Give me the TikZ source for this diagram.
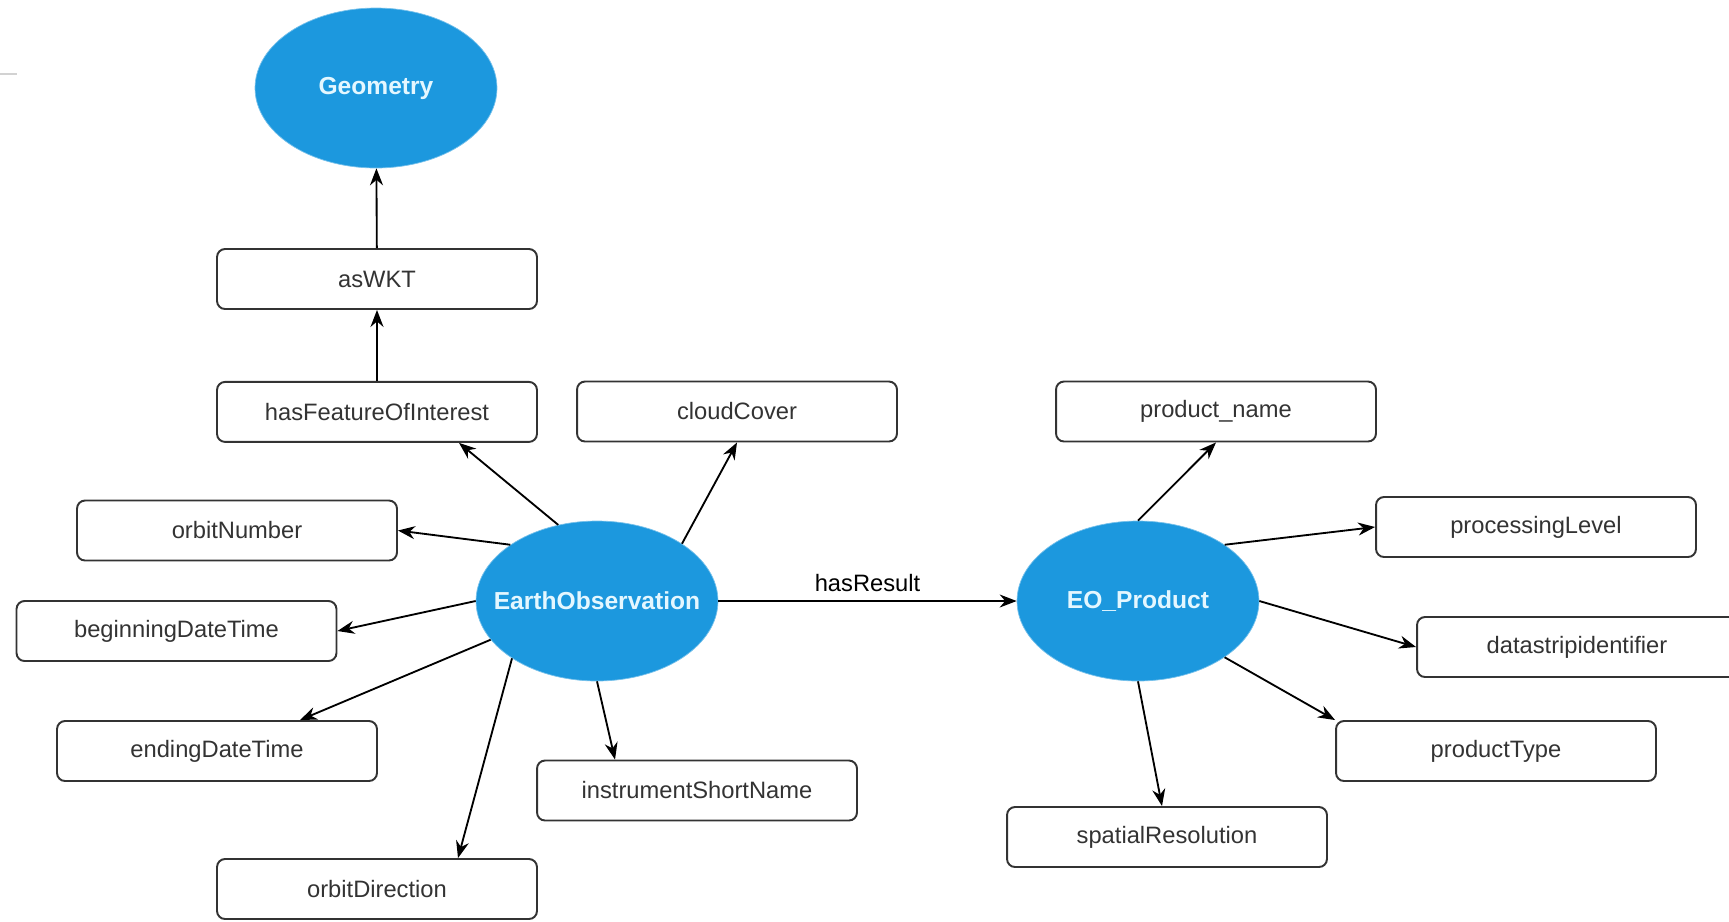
\documentclass[tikz,border=0pt]{standalone}
\usepackage{fontspec}
\setmainfont{Liberation Sans}
\usetikzlibrary{positioning, arrows.meta, calc, shapes.geometric}
\definecolor{eoblue}{RGB}{28, 152, 222}
\definecolor{eotext}{RGB}{228, 247, 255}
\definecolor{boxline}{RGB}{51, 51, 51}
\newcommand{\clsname}[1]{\makebox[0pt]{#1}}

\begin{document}
\begin{tikzpicture}[x=0.02cm, y=-0.02cm, node distance=1.42cm,
    every node/.style={align=center, font=\fontsize{13.5}{16}\selectfont},
    prop/.style={draw=boxline, line width=1.1pt, rounded corners=0.16cm, minimum width=6.4cm, minimum height=1.2cm, text=boxline, inner sep=0pt},
    cls/.style={ellipse, fill=eoblue, draw=eoblue!60!white, minimum width=4.84cm, minimum height=3.2cm, inner sep=0pt, text=eotext, font=\fontsize{14}{16}\selectfont\bfseries},
    link/.style={-{Stealth[length=0.34cm, width=0.26cm]}, line width=1.05pt}]
    \useasboundingbox (0,0) rectangle (1729,921);
    \draw[gray!35, line width=0.8pt] (0,74) -- (17,74);

    % classes
    \node[cls] (geometry) at (376,88) {\clsname{Geometry}};
    \node[cls] (eo) at (597,601) {\clsname{EarthObservation}};
    \node[cls] (eop) at (1138,601) {\clsname{EO\_Product}};

    % properties of EarthObservation
    \node[prop] (aswkt) at (377,279) {asWKT};
    \node[prop, below=of aswkt] (hfoi) {hasFeatureOfInterest};
    \node[prop] (cloud) at (737,411.5) {cloudCover};
    \node[prop] (orbitnum) at (237,530.5) {orbitNumber};
    \node[prop] (begintime) at (176.5,631) {beginningDateTime};
    \node[prop] (endtime) at (217,751) {endingDateTime};
    \node[prop] (orbitdir) at (377,889) {orbitDirection};
    \node[prop] (instr) at (697,790.5) {instrumentShortName};

    % properties of EO_Product
    \node[prop] (pname) at (1216,411.5) {product\_name};
    \node[prop] (plevel) at (1536,527) {processingLevel};
    \node[prop] (dsid) at (1577,647) {datastripidentifier};
    \node[prop] (ptype) at (1496,751) {productType};
    \node[prop] (spres) at (1167,837) {spatialResolution};

    \draw[link] (aswkt) -- (geometry);
    \draw[link] (hfoi) -- (aswkt);
    \draw[link] (eo.117.5) -- ($(hfoi.south)+(82,0)$);
    \draw[link] (eo.34) -- (cloud.south);
    \draw[link] (eo.147.5) -- (orbitnum.east);
    \draw[link] (eo.west) -- (begintime.east);
    \draw[link] (eo.200) -- ($(endtime.north)+(83,0)$);
    \draw[link] (eo.214) -- ($(orbitdir.north)+(81,0)$);
    \draw[link] (eo.south) -- ($(instr.north)+(-82,0)$);
    \draw[link] (eo.east) -- node[above, inner sep=5pt] {hasResult} (eop.west);

    \draw[link] (eop.north) -- (pname.south);
    \draw[link] (eop.33.5) -- (plevel.west);
    \draw[link] (eop.east) -- (dsid.west);
    \draw[link] (eop.-33.5) -- (ptype.north west);
    \draw[link] (eop.south) -- ($(spres.north)+(-5,0)$);
\end{tikzpicture}
\end{document}
